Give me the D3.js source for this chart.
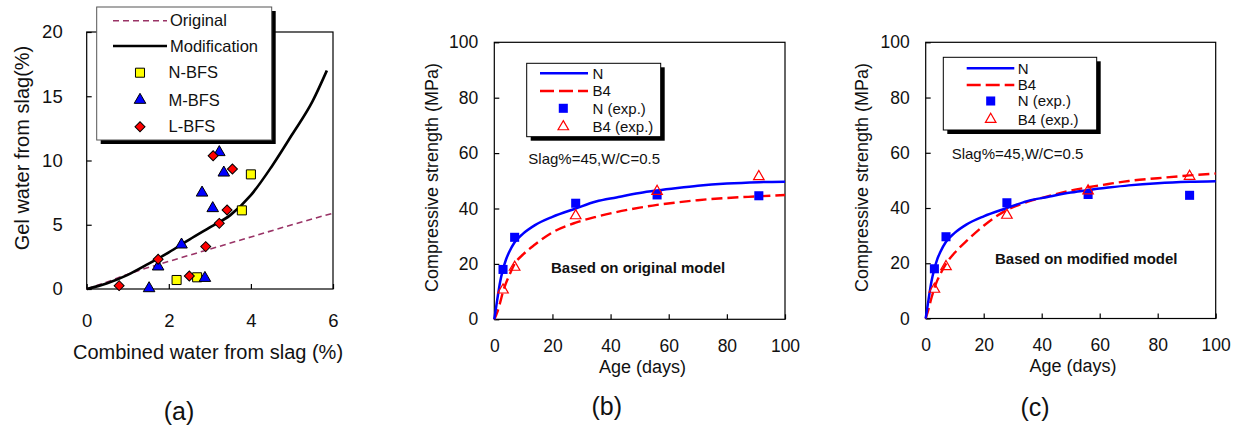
<!DOCTYPE html>
<html>
<head>
<meta charset="utf-8">
<script src="https://cdn.jsdelivr.net/npm/d3@7"></script>
<style>
  body { margin: 0; background: #fff; }
  svg { display: block; }
</style>
</head>
<body>
<svg id="chart" width="1239" height="428"></svg>
<script>
// ---------- Panel (a): gel water vs combined water from slag ----------
const combinedTicks = [0, 2, 4, 6];
const gelTicks = [0, 5, 10, 15, 20];

const originalX = [0, 0.5, 1, 2, 3, 4, 5, 6];
const originalY = [0, 0.55, 1.15, 2.15, 3.1, 4.05, 5.0, 5.9];

const modifiedX = [0, 0.5, 1, 1.5, 2, 2.5, 3, 3.5, 4, 4.5, 5, 5.5, 5.85];
const modifiedY = [0, 0.45, 1.1, 1.95, 2.85, 3.85, 4.8, 5.75, 7.3, 9.5, 12.0, 14.6, 17.0];

const nbfsX = [4.0, 3.78, 2.19, 2.69];
const nbfsY = [8.92, 6.12, 0.7, 0.91];

const mbfsX = [3.23, 3.34, 2.81, 3.07, 2.31, 1.74, 1.52, 2.88];
const mbfsY = [10.64, 9.05, 7.49, 6.28, 3.45, 1.74, 0.05, 0.85];

const lbfsX = [3.08, 3.55, 3.42, 3.23, 2.9, 1.74, 2.5, 0.79];
const lbfsY = [10.37, 9.34, 6.15, 5.11, 3.3, 2.31, 1.01, 0.26];

// ---------- Panels (b) and (c): compressive strength vs age ----------
const ageTicks = [0, 20, 40, 60, 80, 100];
const strengthTicks = [0, 20, 40, 60, 80, 100];

const modelAges = [0, 1, 2, 3, 4, 5, 7, 10, 14, 20, 28, 35, 42, 50, 56, 63, 70, 80, 91, 100];
const nModel = [0, 7, 13.5, 18, 21.5, 24, 27.8, 31, 34, 37, 40, 42.5, 44.0, 45.6, 46.5, 47.4, 48.2, 49.0, 49.5, 49.7];
const b4ModelOriginal = [0, 2.5, 6, 10, 13, 15.5, 20, 23.5, 27, 31.4, 34.9, 37, 38.7, 40.3, 41.3, 42.2, 43, 43.8, 44.4, 44.9];
const b4ModelModified = [0, 3.5, 7.5, 11, 13.8, 16, 19.8, 23.8, 28, 33.6, 39.3, 42.2, 44.2, 46.3, 47.5, 48.7, 49.8, 50.8, 51.8, 52.5];

const expAges = [3, 7, 28, 56, 91];
const nExp = [18, 29.6, 41.9, 44.9, 44.6];
const b4Exp = [10.6, 18.8, 37.4, 46.2, 51.5];

// ---------- shared drawing helpers ----------
const FONT = '"Liberation Sans", Arial, Helvetica, sans-serif';
const svg = d3.select("#chart").attr("font-family", FONT);

const zip = (xs, ys) => xs.map((x, i) => [x, ys[i]]);

function drawFrame(g, x, y, xTicks, yTicks, o) {
  const [xl, xr] = x.range();
  const [yb, yt] = y.range();
  g.append("rect")
    .attr("x", xl).attr("y", yt)
    .attr("width", xr - xl).attr("height", yb - yt)
    .attr("fill", "none").attr("stroke", "#000").attr("stroke-width", 1.2);

  const xAxis = d3.axisBottom(x).tickValues(xTicks).tickSizeInner(-5).tickSizeOuter(0)
    .tickPadding(o.xPad).tickFormat(d3.format("d"));
  const yAxis = d3.axisLeft(y).tickValues(yTicks).tickSizeInner(-5).tickSizeOuter(0)
    .tickPadding(o.yPad).tickFormat(d3.format("d"));

  [[xAxis, `translate(0,${yb})`], [yAxis, `translate(${xl},0)`]].forEach(([ax, tr]) => {
    g.append("g").attr("transform", tr).call(ax)
      .attr("font-family", FONT).attr("font-size", o.tickFont)
      .call(s => s.select(".domain").remove())
      .call(s => s.selectAll("line").attr("stroke", "#000").attr("stroke-width", 1.2))
      .call(s => s.selectAll("text").attr("fill", "#111"));
  });
}

function legendBox(g, x0, y0, w, h, stroke) {
  g.append("rect").attr("x", x0 + 4).attr("y", y0 + 4).attr("width", w).attr("height", h).attr("fill", "#000");
  g.append("rect").attr("x", x0).attr("y", y0).attr("width", w).attr("height", h)
    .attr("fill", "#fff").attr("stroke", stroke).attr("stroke-width", 1);
}

const sym = (type, size) => d3.symbol().type(type).size(size)();

// ---------- Panel (a) ----------
{
  const g = svg.append("g");
  const x = d3.scaleLinear().domain([0, 6]).range([86.7, 333]);
  const y = d3.scaleLinear().domain([0, 20]).range([289, 32]);

  drawFrame(g, x, y, combinedTicks, gelTicks, { xPad: 25, yPad: 24, tickFont: 18.5 });

  const line = d3.line().x(d => x(d[0])).y(d => y(d[1])).curve(d3.curveMonotoneX);

  g.append("path").datum(zip(originalX, originalY)).attr("d", line)
    .attr("fill", "none").attr("stroke", "#993366").attr("stroke-width", 1.6).attr("stroke-dasharray", "6,4");
  g.append("path").datum(zip(modifiedX, modifiedY)).attr("d", line)
    .attr("fill", "none").attr("stroke", "#000").attr("stroke-width", 2.6);

  const squarePath = sym(d3.symbolSquare, 82);
  const triPath = sym(d3.symbolTriangle, 58);
  const diaPath = sym(d3.symbolSquare, 50);

  g.selectAll(".nb").data(zip(nbfsX, nbfsY)).join("path")
    .attr("d", squarePath).attr("transform", d => `translate(${x(d[0])},${y(d[1])})`)
    .attr("fill", "#ffff00").attr("stroke", "#000").attr("stroke-width", 1);
  g.selectAll(".mb").data(zip(mbfsX, mbfsY)).join("path")
    .attr("d", triPath).attr("transform", d => `translate(${x(d[0])},${y(d[1])})`)
    .attr("fill", "#0000ff").attr("stroke", "#000").attr("stroke-width", 1);
  g.selectAll(".lb").data(zip(lbfsX, lbfsY)).join("path")
    .attr("d", diaPath).attr("transform", d => `translate(${x(d[0])},${y(d[1])}) rotate(45)`)
    .attr("fill", "#ff0000").attr("stroke", "#000").attr("stroke-width", 1);

  // legend
  legendBox(g, 96.7, 7, 175, 133, "#555");
  const rows = [20.7, 46, 72.7, 100, 126.7];
  g.append("line").attr("x1", 113).attr("x2", 167).attr("y1", rows[0]).attr("y2", rows[0])
    .attr("stroke", "#993366").attr("stroke-width", 1.6).attr("stroke-dasharray", "6,4");
  g.append("line").attr("x1", 113).attr("x2", 167).attr("y1", rows[1]).attr("y2", rows[1])
    .attr("stroke", "#000").attr("stroke-width", 2.6);
  g.append("path").attr("d", squarePath).attr("transform", `translate(140,${rows[2]})`)
    .attr("fill", "#ffff00").attr("stroke", "#000");
  g.append("path").attr("d", triPath).attr("transform", `translate(140,${rows[3]})`)
    .attr("fill", "#0000ff").attr("stroke", "#000");
  g.append("path").attr("d", diaPath).attr("transform", `translate(140,${rows[4]}) rotate(45)`)
    .attr("fill", "#ff0000").attr("stroke", "#000");
  const labels = ["Original", "Modification", "N-BFS", "M-BFS", "L-BFS"];
  labels.forEach((t, i) => {
    g.append("text").attr("x", i < 2 ? 170 : 168.5).attr("y", rows[i]).attr("dy", "0.35em")
      .attr("font-size", 16.5).attr("fill", "#111").text(t);
  });

  g.append("text").attr("transform", "translate(22,148) rotate(-90)").attr("dy", "0.35em")
    .attr("text-anchor", "middle").attr("font-size", 20).attr("fill", "#111").text("Gel water from slag(%)");
  g.append("text").attr("x", 208).attr("y", 359).attr("text-anchor", "middle")
    .attr("font-size", 20).attr("fill", "#111").text("Combined water from slag (%)");
  g.append("text").attr("x", 179).attr("y", 420).attr("text-anchor", "middle")
    .attr("font-size", 25).attr("fill", "#111").text("(a)");
}

// ---------- Panels (b) and (c) ----------
function strengthPanel(p) {
  const g = svg.append("g");
  const x = d3.scaleLinear().domain([0, 100]).range([p.left, p.right]);
  const y = d3.scaleLinear().domain([0, 100]).range([p.bottom, p.top]);

  drawFrame(g, x, y, ageTicks, strengthTicks, { xPad: 20.5, yPad: 16, tickFont: 17.5 });

  const line = d3.line().x(d => x(d[0])).y(d => y(d[1])).curve(d3.curveMonotoneX);

  g.append("path").datum(zip(modelAges, p.b4Model)).attr("d", line)
    .attr("fill", "none").attr("stroke", "#ff0000").attr("stroke-width", 2.4).attr("stroke-dasharray", "11,5");
  g.append("path").datum(zip(modelAges, nModel)).attr("d", line)
    .attr("fill", "none").attr("stroke", "#0000ff").attr("stroke-width", 2.5);

  const sq = sym(d3.symbolSquare, 82);
  const tri = sym(d3.symbolTriangle, 48);

  g.selectAll(".ne").data(zip(expAges, nExp)).join("path")
    .attr("d", sq).attr("transform", d => `translate(${x(d[0])},${y(d[1])})`)
    .attr("fill", "#0000ff");
  g.selectAll(".be").data(zip(expAges, b4Exp)).join("path")
    .attr("d", tri).attr("transform", d => `translate(${x(d[0])},${y(d[1])})`)
    .attr("fill", "none").attr("stroke", "#ff0000").attr("stroke-width", 1.2);

  // legend
  const L = p.legend;
  legendBox(g, L.x, L.y, L.w, L.h, "#000");
  g.append("line").attr("x1", L.lineX1).attr("x2", L.lineX2).attr("y1", L.rows[0]).attr("y2", L.rows[0])
    .attr("stroke", "#0000ff").attr("stroke-width", 2.5);
  g.append("line").attr("x1", L.lineX1).attr("x2", L.lineX2).attr("y1", L.rows[1]).attr("y2", L.rows[1])
    .attr("stroke", "#ff0000").attr("stroke-width", 2.6).attr("stroke-dasharray", "14,5");
  g.append("path").attr("d", sq).attr("transform", `translate(${L.markX},${L.rows[2]})`).attr("fill", "#0000ff");
  g.append("path").attr("d", tri).attr("transform", `translate(${L.markX},${L.rows[3]})`)
    .attr("fill", "none").attr("stroke", "#ff0000").attr("stroke-width", 1.2);
  ["N", "B4", "N (exp.)", "B4 (exp.)"].forEach((t, i) => {
    g.append("text").attr("x", L.textX).attr("y", L.rows[i]).attr("dy", "0.35em")
      .attr("font-size", 15).attr("fill", "#111").text(t);
  });

  g.append("text").attr("x", p.slag[0]).attr("y", p.slag[1]).attr("dy", "0.35em")
    .attr("font-size", 15).attr("fill", "#111").text("Slag%=45,W/C=0.5");
  g.append("text").attr("x", p.note[0]).attr("y", p.note[1]).attr("dy", "0.35em")
    .attr("font-size", 15).attr("font-weight", "bold").attr("fill", "#111").text(p.noteText);

  g.append("text").attr("transform", `translate(${p.yTitleX},177.5) rotate(-90)`).attr("dy", "0.35em")
    .attr("text-anchor", "middle").attr("font-size", 18).attr("fill", "#111").text("Compressive strength (MPa)");
  g.append("text").attr("x", p.xTitle[0]).attr("y", p.xTitle[1]).attr("text-anchor", "middle")
    .attr("font-size", 18).attr("fill", "#111").text("Age (days)");
  g.append("text").attr("x", p.tag[0]).attr("y", p.tag[1]).attr("text-anchor", "middle")
    .attr("font-size", 25).attr("fill", "#111").text(p.tagText);
}

strengthPanel({
  left: 494.3, right: 785, top: 42.3, bottom: 319.3,
  b4Model: b4ModelOriginal,
  legend: { x: 526.7, y: 63.3, w: 134, h: 73.4, rows: [73.3, 91, 108.3, 126.7],
            lineX1: 540, lineX2: 588, markX: 563.3, textX: 592.5 },
  slag: [528.3, 158.3],
  note: [551, 267.3], noteText: "Based on original model",
  yTitleX: 431.7, xTitle: [642.5, 372.7],
  tag: [606.7, 415], tagText: "(b)"
});

strengthPanel({
  left: 925.7, right: 1215.7, top: 42.3, bottom: 318.5,
  b4Model: b4ModelModified,
  legend: { x: 943.3, y: 57.3, w: 153.4, h: 72.7, rows: [68.3, 85, 101, 119.3],
            lineX1: 966.7, lineX2: 1014.3, markX: 990.7, textX: 1017.7 },
  slag: [951.7, 154],
  note: [995, 258.7], noteText: "Based on modified model",
  yTitleX: 861.7, xTitle: [1073, 371.7],
  tag: [1035, 415.5], tagText: "(c)"
});
</script>
</body>
</html>
